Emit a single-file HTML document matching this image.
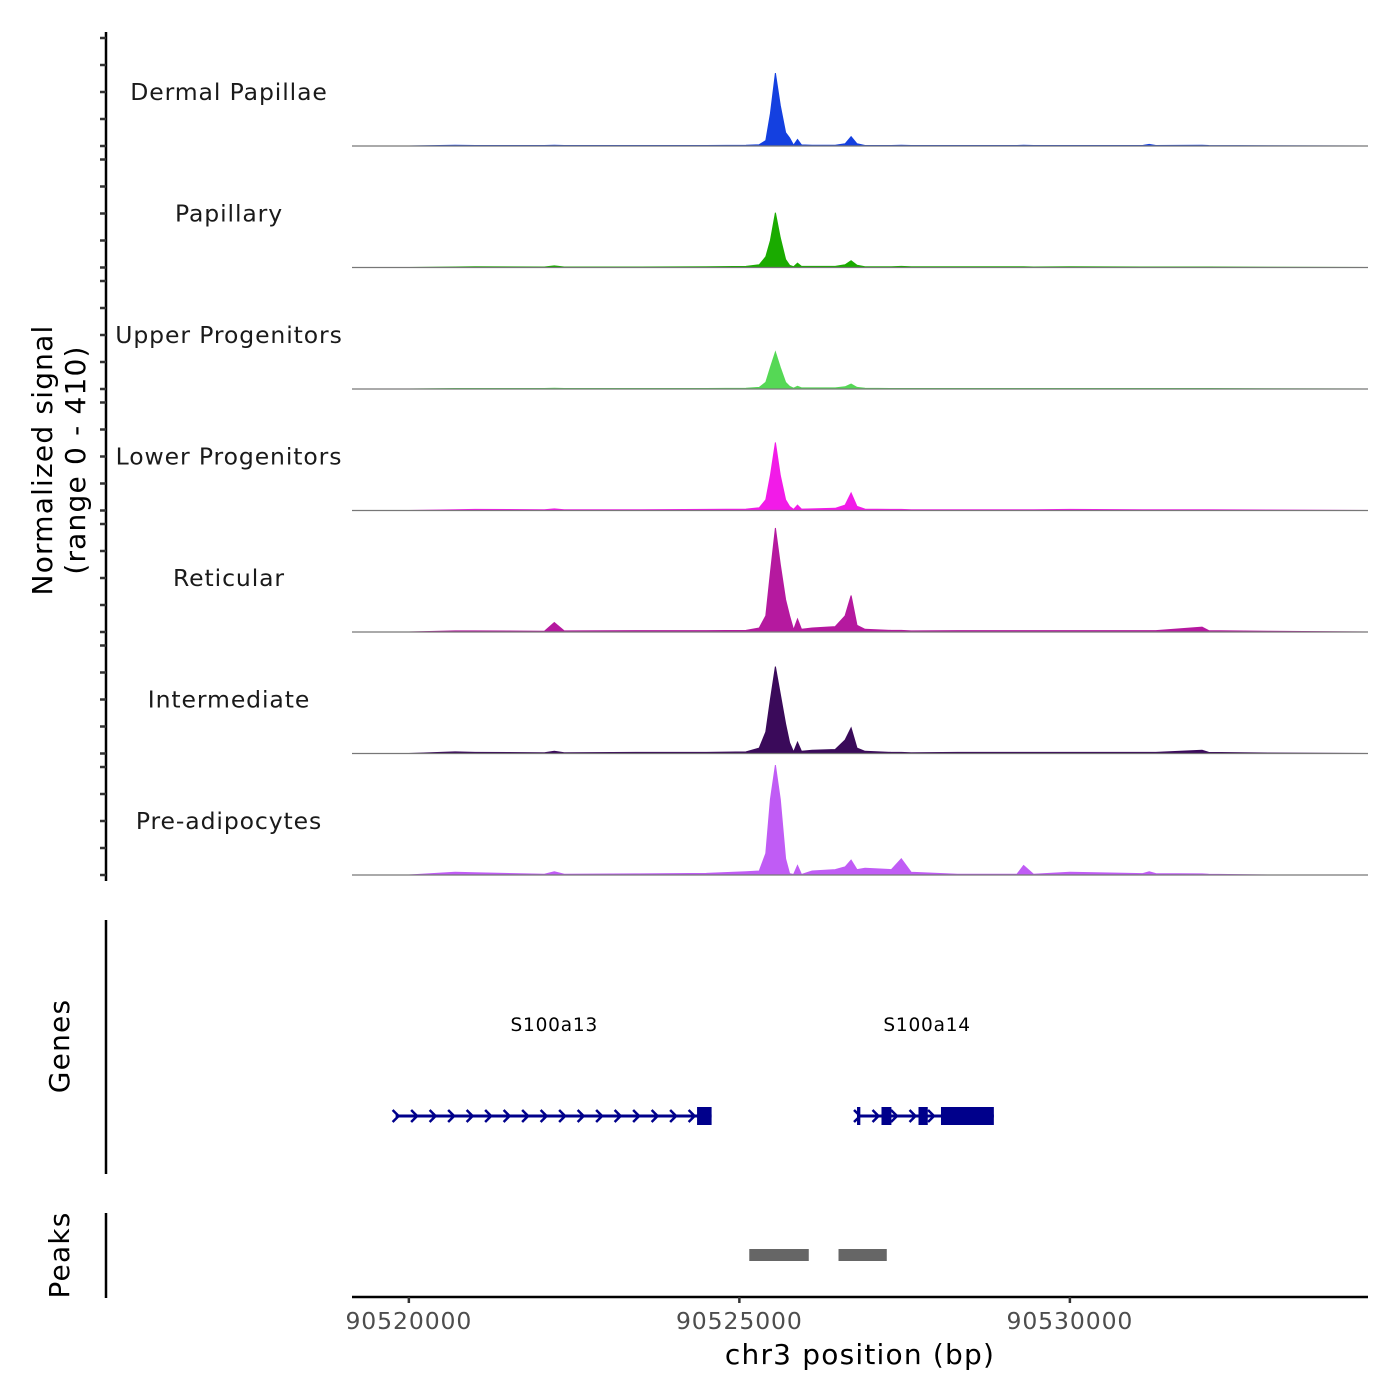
<!DOCTYPE html>
<html><head><meta charset="utf-8"><style>
body{margin:0;background:#fff}
svg{display:block;font-family:"DejaVu Sans","Liberation Sans",sans-serif}
</style></head><body>
<svg id="chart" width="1400" height="1400" viewBox="0 0 1400 1400" xmlns="http://www.w3.org/2000/svg">
<g id="tracks"></g>
<g id="yaxis"></g>
<text transform="translate(52,460) rotate(-90)" text-anchor="middle" font-size="28" letter-spacing="1.2" fill="#000">Normalized signal</text>
<text transform="translate(85,460) rotate(-90)" text-anchor="middle" font-size="28" letter-spacing="1.2" fill="#000">(range 0 - 410)</text>
<line x1="106" y1="920" x2="106" y2="1174" stroke="#000" stroke-width="2.5"/>
<text transform="translate(69,1046) rotate(-90)" text-anchor="middle" font-size="28" letter-spacing="1.2">Genes</text>
<line x1="106" y1="1213" x2="106" y2="1298" stroke="#000" stroke-width="2.5"/>
<text transform="translate(69,1255) rotate(-90)" text-anchor="middle" font-size="28" letter-spacing="1.2">Peaks</text>
<g id="genes"></g>
<g id="peaks"></g>
<g id="xaxis"></g>
<text x="860" y="1364" text-anchor="middle" font-size="28" letter-spacing="1.2">chr3 position (bp)</text>
</svg>
<script>
const trackNames=["Dermal Papillae","Papillary","Upper Progenitors","Lower Progenitors","Reticular","Intermediate","Pre-adipocytes"];
const trackColors=["#1440e0","#1aab00","#55d855","#f21be8","#b5199f","#3a0a5a","#c05cf5"];
const positions=[90519140,90520000,90520700,90521000,90522050,90522200,90522350,90523500,90524500,90525100,90525300,90525400,90525470,90525545,90525620,90525700,90525760,90525820,90525880,90525940,90526100,90526450,90526600,90526690,90526780,90526900,90527300,90527450,90527600,90528300,90529200,90529300,90529450,90530000,90531100,90531200,90531300,90532000,90532100,90533000,90534510];
const sigDermal=[0,0,3,2,2,3,2,2,2,3,5,20,120,270,150,50,30,3,24,4,3,3,8,35,8,2,2,3,2,2,2,3,2,2,2,6,2,3,2,1,0];
const sigPapillary=[0,0,2,3,2,6,2,2,3,4,10,40,100,203,110,30,8,3,16,4,4,4,10,25,8,3,3,4,3,3,3,3,2,3,2,2,2,2,2,1,0];
const sigUpper=[0,0,2,2,2,3,2,2,2,3,6,25,80,137,80,25,10,3,10,4,4,4,8,18,6,3,2,2,2,2,2,2,2,2,2,2,2,2,2,1,0];
const sigLower=[0,0,3,4,3,6,3,3,4,5,10,40,130,252,130,40,15,4,20,5,6,8,20,65,15,5,4,4,3,3,3,3,3,4,3,3,3,3,3,2,0];
const sigReticular=[0,0,4,4,3,35,4,5,5,6,15,60,220,385,250,120,60,8,48,10,15,20,60,135,25,10,6,6,4,5,5,5,5,5,5,5,5,18,5,3,0];
const sigIntermediate=[0,0,6,4,3,8,3,4,4,6,20,80,200,322,220,110,40,6,42,8,12,15,50,95,20,8,4,4,3,4,4,4,4,4,4,4,4,12,4,2,0];
const sigPre=[0,0,10,8,3,12,3,4,6,12,15,80,280,407,280,60,5,2,35,2,15,20,30,55,20,25,20,60,10,3,3,35,3,10,5,12,5,4,3,0,0];
const signals=[sigDermal,sigPapillary,sigUpper,sigLower,sigReticular,sigIntermediate,sigPre];
const yTicks=[0,100,200,300,400];
const xTicks=[90520000,90525000,90530000];
const xTickLabels=["90520000","90525000","90530000"];
const geneNames=["S100a13","S100a14"];
const geneStarts=[90519800,90526780];
const geneEnds=[90524580,90528850];
const geneLabelPos=[90522200,90527840];
const exonStarts=[90524360,90526780,90527150,90527710,90528050];
const exonEnds=[90524580,90526830,90527300,90527850,90528850];
const peakStarts=[90525150,90526500];
const peakEnds=[90526050,90527230];

const NS="http://www.w3.org/2000/svg";
function mk(t,a,p){const e=document.createElementNS(NS,t);for(const k in a)e.setAttribute(k,a[k]);p.appendChild(e);return e;}
const X0=352,X1=1368,B0=90519140,B1=90534510;
function xs(b){return X0+(b-B0)/(B1-B0)*(X1-X0);}
const base0=146,trackStep=121.5,pxPerUnit=0.27;
function ys(t,v){return base0+t*trackStep-v*pxPerUnit;}

const tg=document.getElementById('tracks');
const ya=document.getElementById('yaxis');
let l=mk('line',{x1:106,y1:32,x2:106,y2:881,stroke:'#000','stroke-width':2.5},ya);


signals.forEach((s,t)=>{
  let d='M'+xs(positions[0])+','+ys(t,0);
  s.forEach((v,i)=>{d+=' L'+xs(positions[i]).toFixed(1)+','+ys(t,v).toFixed(1);});
  d+=' L'+xs(positions[positions.length-1])+','+ys(t,0)+' Z';
  const a=mk('path',{d:d,fill:trackColors[t],stroke:trackColors[t],'stroke-width':1},tg);
  
  
  const bl=mk('line',{x1:X0,x2:X1,y1:ys(t,0),y2:ys(t,0),stroke:'#777','stroke-width':1.2},tg);
  
  
  const lb=mk('text',{x:229,y:ys(t,0)-46,'text-anchor':'middle','font-size':23.5,'letter-spacing':0.9,fill:'#1a1a1a'},tg);
  lb.textContent=trackNames[t];
  
  
  yTicks.forEach(v=>{
    const tk=mk('line',{x1:100,x2:106,y1:ys(t,v),y2:ys(t,v),stroke:'#333','stroke-width':2.5},ya);
    
    
  });
});

const gg=document.getElementById('genes');
const gy=1116;
geneNames.forEach((n,i)=>{
  const ln=mk('line',{x1:xs(geneStarts[i]),x2:xs(geneEnds[i]),y1:gy,y2:gy,stroke:'#00008b','stroke-width':3},gg);
  
  
  const tx=mk('text',{x:xs(geneLabelPos[i]),y:1031,'text-anchor':'middle','font-size':18.5,'letter-spacing':0.8},gg);
  tx.textContent=n;
  
  
  for(let x=xs(geneStarts[i]);x<xs(geneEnds[i])-10;x+=18.5){
    const ar=mk('path',{d:'M'+(x-3)+','+(gy-6)+' L'+(x+3)+','+gy+' L'+(x-3)+','+(gy+6),fill:'none',stroke:'#00008b','stroke-width':2.5},gg);
    
    
  }
});
exonStarts.forEach((s,i)=>{
  const r=mk('rect',{x:xs(s),y:gy-9,width:Math.max(3,xs(exonEnds[i])-xs(s)),height:18,fill:'#00008b'},gg);
  
  
});
const pg=document.getElementById('peaks');
peakStarts.forEach((s,i)=>{
  const r=mk('rect',{x:xs(s),y:1249,width:xs(peakEnds[i])-xs(s),height:12,fill:'#666'},pg);
  
  
});
const xa=document.getElementById('xaxis');
const al=mk('line',{x1:X0,x2:X1,y1:1297,y2:1297,stroke:'#000','stroke-width':2.5},xa);


xTicks.forEach((b,i)=>{
  const tk=mk('line',{x1:xs(b),x2:xs(b),y1:1297,y2:1303,stroke:'#333','stroke-width':2.5},xa);
  
  
  const tx=mk('text',{x:xs(b),y:1329,'text-anchor':'middle','font-size':23.5,'letter-spacing':0.9,fill:'#4d4d4d'},xa);
  tx.textContent=xTickLabels[i];
  
  
});
</script>
</body></html>
